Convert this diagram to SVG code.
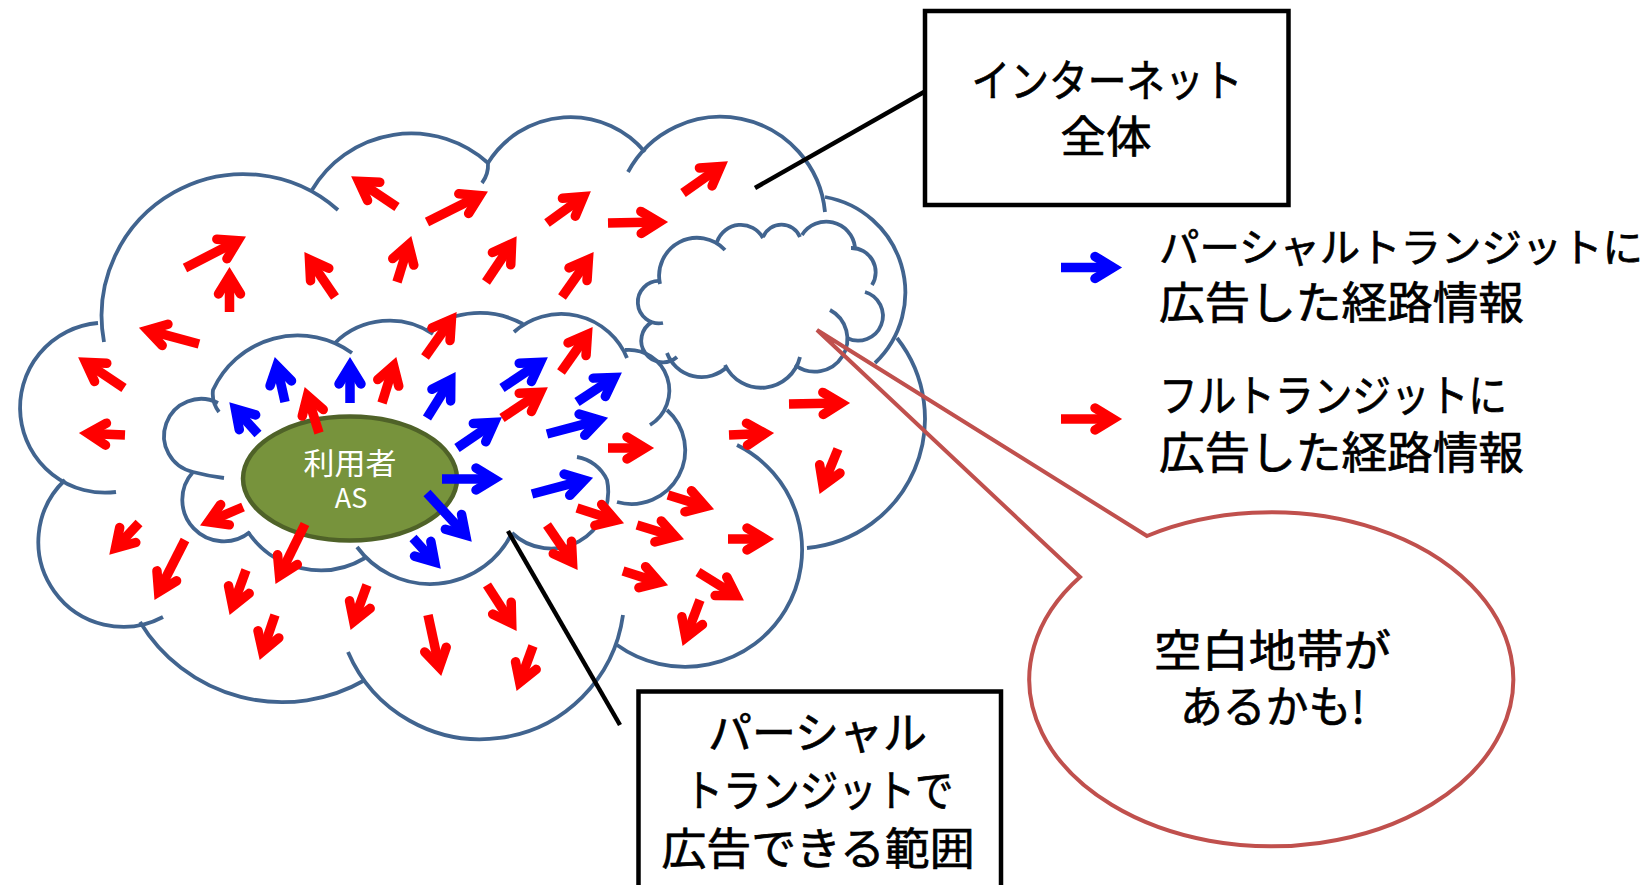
<svg xmlns="http://www.w3.org/2000/svg" width="1652" height="885" viewBox="0 0 1652 885">
<style>
.cl{fill:none;stroke:#41648F;stroke-width:3.8;stroke-linecap:butt}
.ar{stroke:#FF0000;stroke-width:9.5;fill:none;marker-end:url(#hr)}
.ab{stroke:#0000FF;stroke-width:9.5;fill:none;marker-end:url(#hb)}
.bx{fill:#FFFFFF;stroke:#000000;stroke-width:4.5}
.ln{stroke:#000000;stroke-width:4.5;fill:none}
.t{font-family:"Noto Sans CJK JP","Noto Sans",sans-serif;font-size:44px;fill:#000000;stroke:#000000;stroke-width:0.7}
.c{text-anchor:middle}
.w{font-family:"Noto Sans CJK JP","Noto Sans",sans-serif;fill:#FFFFFF;text-anchor:middle}
</style>
<defs>
<marker id="hr" markerUnits="userSpaceOnUse" viewBox="-30 -20 45 40" markerWidth="45" markerHeight="40" refX="0" refY="0" orient="auto" overflow="visible">
<polyline points="-18,-11 0,0 -18,11" fill="none" stroke="#FF0000" stroke-width="9.5" stroke-linecap="round" stroke-linejoin="miter" stroke-miterlimit="10"/>
</marker>
<marker id="hb" markerUnits="userSpaceOnUse" viewBox="-30 -20 45 40" markerWidth="45" markerHeight="40" refX="0" refY="0" orient="auto" overflow="visible">
<polyline points="-18,-11 0,0 -18,11" fill="none" stroke="#0000FF" stroke-width="9.5" stroke-linecap="round" stroke-linejoin="miter" stroke-miterlimit="10"/>
</marker>
</defs>
<rect width="1652" height="885" fill="#FFFFFF"/>

<g id="cloud-internet" class="cl">
<path d="M338,210 A142,142 0 0 0 104,342"/>
<path d="M312,190 A115,115 0 0 1 488,163 A30,30 0 0 1 482,183"/>
<path d="M488,163 A97,97 0 0 1 645,152"/>
<path d="M628,172 A105,105 0 0 1 825,212"/>
<path d="M825,197 A97,97 0 0 1 875,363"/>
<path d="M807,548 A130,130 0 0 0 897,338"/>
<path d="M617,645 A117,117 0 1 0 737,445"/>
<path d="M348,652 A144,144 0 0 0 623,615"/>
<path d="M140,622 A166,166 0 0 0 365,680"/>
<path d="M65,480 A85,85 0 0 0 163,617"/>
<path d="M98,323 A85,85 0 1 0 116,492"/>
</g>

<g id="cloud-blank" class="cl">
<path d="M660,281 A21.2,21.2 0 1 0 663,323"/>
<path d="M652,322 A21.6,21.6 0 1 0 677,357"/>
<path d="M667,353 A37,37 0 0 0 727,367"/>
<path d="M725,365 A40,40 0 0 0 800,357"/>
<path d="M795,365 A32.7,32.7 0 1 0 830,310"/>
<path d="M847,338 A24.8,24.8 0 1 0 865,292"/>
<path d="M872,285 A24.2,24.2 0 0 0 851,248"/>
<path d="M855,247 A28.9,28.9 0 0 0 802,235"/>
<path d="M800,237 A20,20 0 0 0 763,237"/>
<path d="M763,238 A25.2,25.2 0 0 0 717,242"/>
<path d="M660,284 A38,38 0 0 1 725,250"/>
</g>

<g id="cloud-partial" class="cl">
<path d="M218,403 A37,37 0 1 0 193,472 Q208,476 224,478"/>
<path d="M193,472 A41.5,41.5 0 0 0 250,532"/>
<path d="M248,532 A87.4,87.4 0 0 0 365,558"/>
<path d="M512,533 A91,91 0 0 1 357,547"/>
<path d="M577,457 A40,40 0 0 1 607,480 A57,57 0 0 1 512,533"/>
<path d="M667,410 A53.7,53.7 0 0 1 617,502"/>
<path d="M625,350 A40.6,40.6 0 0 1 650,425"/>
<path d="M514,332 A71,71 0 0 1 627,358"/>
<path d="M427,330 A90,90 0 0 1 523,324"/>
<path d="M335,343 A77.6,77.6 0 0 1 433,334"/>
<path d="M219,412 A30,30 0 0 1 213,390 A93,93 0 0 1 352,353"/>
</g>

<g id="user-as">
<ellipse cx="350" cy="478.5" rx="107" ry="62" fill="#77933C" stroke="#4F6228" stroke-width="4.5"/>
<text class="w" x="350" y="474" font-size="30" textLength="93" lengthAdjust="spacingAndGlyphs">利用者</text>
<text class="w" x="351" y="508" font-size="27">AS</text>
</g>

<g id="routes">
<line class="ar" x1="397" y1="207" x2="358.7" y2="181.4"/>
<line class="ar" x1="427" y1="222" x2="479.8" y2="195.6"/>
<line class="ar" x1="185" y1="268" x2="237.9" y2="240.7"/>
<line class="ar" x1="229.5" y1="312" x2="229.5" y2="276"/>
<line class="ar" x1="335" y1="297" x2="309.5" y2="259.6"/>
<line class="ar" x1="397" y1="282" x2="408.6" y2="244.6"/>
<line class="ar" x1="486" y1="282" x2="511.6" y2="243.7"/>
<line class="ar" x1="199" y1="344" x2="147.7" y2="330.1"/>
<line class="ar" x1="124" y1="388" x2="85.7" y2="362.4"/>
<line class="ar" x1="125" y1="435" x2="88" y2="433.4"/>
<line class="ar" x1="425" y1="357" x2="451.4" y2="319.5"/>
<line class="ar" x1="382" y1="403" x2="393.6" y2="365.6"/>
<line class="ar" x1="319" y1="433" x2="307.4" y2="395.6"/>
<line class="ar" x1="547" y1="223" x2="583.5" y2="196.7"/>
<line class="ar" x1="608" y1="223" x2="659" y2="222.1"/>
<line class="ar" x1="683" y1="193" x2="720.5" y2="166.6"/>
<line class="ar" x1="562" y1="297" x2="588.4" y2="259.5"/>
<line class="ar" x1="561" y1="372" x2="587.4" y2="334.5"/>
<line class="ar" x1="502" y1="418" x2="540.3" y2="392.4"/>
<line class="ar" x1="608" y1="448" x2="645" y2="448"/>
<line class="ar" x1="577" y1="508" x2="615.4" y2="520.5"/>
<line class="ar" x1="668" y1="495" x2="705.4" y2="506.6"/>
<line class="ar" x1="637" y1="525" x2="675.3" y2="536.7"/>
<line class="ar" x1="728" y1="539" x2="765" y2="539"/>
<line class="ar" x1="789" y1="404" x2="841" y2="403.1"/>
<line class="ar" x1="729" y1="435" x2="765" y2="433.4"/>
<line class="ar" x1="838" y1="449" x2="823" y2="485.6"/>
<line class="ar" x1="547" y1="525" x2="572.5" y2="562.4"/>
<line class="ar" x1="623" y1="571" x2="659.4" y2="582.6"/>
<line class="ar" x1="698" y1="572" x2="736.2" y2="595.8"/>
<line class="ar" x1="700" y1="600" x2="685.8" y2="637.5"/>
<line class="ar" x1="487" y1="585" x2="511.7" y2="623.3"/>
<line class="ar" x1="533" y1="646" x2="519.7" y2="682.5"/>
<line class="ar" x1="428" y1="615" x2="439.3" y2="667.2"/>
<line class="ar" x1="367" y1="585" x2="353.7" y2="621.5"/>
<line class="ar" x1="275" y1="615" x2="262.6" y2="651.4"/>
<line class="ar" x1="246" y1="570" x2="232.7" y2="606.5"/>
<line class="ar" x1="305" y1="524" x2="279.5" y2="575.8"/>
<line class="ar" x1="243" y1="507" x2="208.4" y2="521.8"/>
<line class="ar" x1="185" y1="540" x2="158.6" y2="591.9"/>
<line class="ar" x1="139" y1="523" x2="115.5" y2="548.2"/>
<line class="ab" x1="258" y1="434" x2="235.4" y2="408.9"/>
<line class="ab" x1="285" y1="402" x2="276.8" y2="365.8"/>
<line class="ab" x1="350" y1="403" x2="350" y2="366"/>
<line class="ab" x1="427" y1="418" x2="450.8" y2="379.8"/>
<line class="ab" x1="502" y1="388" x2="540.3" y2="362.4"/>
<line class="ab" x1="577" y1="402" x2="614.3" y2="377.4"/>
<line class="ab" x1="547" y1="434" x2="599.3" y2="420.1"/>
<line class="ab" x1="457" y1="448" x2="494.4" y2="422.5"/>
<line class="ab" x1="442" y1="479" x2="494" y2="479"/>
<line class="ab" x1="427" y1="493" x2="465.6" y2="535.1"/>
<line class="ab" x1="532" y1="494" x2="584.3" y2="480.1"/>
<line class="ab" x1="413" y1="538" x2="434.7" y2="562.1"/>
</g>

<g id="box-internet">
<rect class="bx" x="925" y="11" width="363.5" height="194"/>
<text class="t c" x="1107" y="97" textLength="271" lengthAdjust="spacingAndGlyphs">インターネット</text>
<text class="t c" x="1106" y="153" textLength="91" lengthAdjust="spacingAndGlyphs">全体</text>
</g>

<g id="box-partial">
<rect class="bx" x="638.5" y="691.5" width="362.5" height="230"/>
<text class="t c" x="817.5" y="749" textLength="219" lengthAdjust="spacingAndGlyphs">パーシャル</text>
<text class="t c" x="819" y="807" textLength="269" lengthAdjust="spacingAndGlyphs">トランジットで</text>
<text class="t c" x="818" y="865" textLength="313" lengthAdjust="spacingAndGlyphs">広告できる範囲</text>
</g>

<g id="callout">
<path d="M1147,536 L817,330 L1080,577 A242,167 0 1 0 1147,536 Z" fill="none" stroke="#C0504D" stroke-width="4" stroke-linejoin="miter"/>
<text class="t c" x="1272.5" y="667" textLength="237" lengthAdjust="spacingAndGlyphs">空白地帯が</text>
<text class="t c" x="1272.5" y="723" textLength="185" lengthAdjust="spacingAndGlyphs">あるかも!</text>
</g>

<g id="legend">
<line class="ab" x1="1061" y1="267.5" x2="1113" y2="267.5"/>
<text class="t" x="1159" y="262" font-size="40" style="font-size:40px" textLength="484" lengthAdjust="spacingAndGlyphs">パーシャルトランジットに</text>
<text class="t" x="1159" y="319" textLength="365" lengthAdjust="spacingAndGlyphs">広告した経路情報</text>
<line class="ar" x1="1061" y1="419" x2="1113" y2="419"/>
<text class="t" x="1159" y="412" textLength="348" lengthAdjust="spacingAndGlyphs">フルトランジットに</text>
<text class="t" x="1159" y="469" textLength="365" lengthAdjust="spacingAndGlyphs">広告した経路情報</text>
</g>

<g id="connectors">
<line class="ln" x1="924" y1="92" x2="755" y2="188"/>
<line class="ln" x1="508" y1="531" x2="620" y2="725"/>
</g>
</svg>
